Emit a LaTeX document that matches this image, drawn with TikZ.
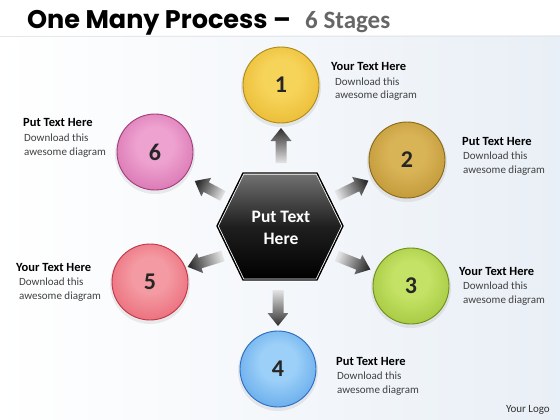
\documentclass[tikz,border=0pt]{standalone}
\usepackage{fontspec}
\setmainfont{Carlito}
\newfontfamily\titlefont{Poppins}
\usetikzlibrary{calc}
\definecolor{bgblue}{HTML}{E9EFF6}
\definecolor{arrdark}{HTML}{2E2E2E}
\definecolor{arrlight}{HTML}{E4E4E4}
\definecolor{subtxt}{HTML}{404040}
\colorlet{ballin}{white}
\colorlet{ballout}{gray}
\colorlet{ballrim}{gray}
\pgfdeclareradialshading[ballin,ballout]{myball}{\pgfpoint{0bp}{6bp}}{color(0bp)=(ballin); color(12bp)=(ballin); color(44bp)=(ballout); color(50bp)=(ballout)}
\tikzset{
  ball/.style n args={3}{circle, minimum size=76pt, inner sep=0pt,
    /utils/exec={\definecolor{ballin}{HTML}{#1}\definecolor{ballout}{HTML}{#2}\definecolor{ballrim}{HTML}{#3}},
    shade, shading=myball, draw=ballrim, line width=0.9pt,
    font=\bfseries\fontsize{24}{24}\selectfont, text=black!85},
  hd/.style={inner sep=0pt, font=\bfseries\fontsize{12.5}{14}\selectfont, text=black},
  sb/.style={inner sep=0pt, font=\fontsize{11}{13}\selectfont, text=subtxt},
}
\newcommand\tblock[5]{%
  \node[hd, anchor=base west] (#1h) at (#2,#3) {#5};
  \node[sb, anchor=base west] (#1a) at ($(#2,#3)+(#4,14)$) {Download this};
  \node[sb, anchor=base west] (#1b) at ($(#2,#3)+(#4,28)$) {awesome diagram};}
% tail x,y ; direction ; length ; shading angle
\newcommand\shadearrow[4]{%
  \begin{scope}[shift={(#1)}, rotate=#2]
    \path[top color=arrdark, bottom color=arrlight, shading angle=#4]
      (0,-5.5) -- ({#3-13},-5.5) -- ({#3-13},-10.5) -- (#3,0) -- ({#3-13},10.5) -- ({#3-13},5.5) -- (0,5.5) -- cycle;
  \end{scope}}
\begin{document}
\begin{tikzpicture}[x=1pt,y=-1pt]
\useasboundingbox (0,0) rectangle (560,420);
% background
\fill[white] (0,0) rectangle (560,420);
\shade[left color=white, right color=bgblue] (0,36) rectangle (560,420);
\draw[bgblue!80!gray!60, line width=0.6pt] (0,36) -- (560,36);
% title
\node[anchor=base west, inner sep=0pt] (title) at (27,29)
  {\titlefont\bfseries\fontsize{25.5}{26}\selectfont One Many Process \textendash};
\node[anchor=base west, inner sep=0pt, text=black!60, font=\bfseries\fontsize{25}{26}\selectfont] (sub) at (305,29) {6 Stages};
% arrows
\shadearrow{281,163}{90}{35}{0}
\shadearrow{337,196}{26}{35}{-64}
\shadearrow{337,256}{-22}{36}{-112}
\shadearrow{278,290}{-90}{36}{180}
\shadearrow{223,256}{197}{37}{107}
\shadearrow{223,196}{152}{32}{62}
% hexagon
\path[draw=white, line width=3pt, line join=round, top color=black!55, bottom color=black, middle color=black!88]
  (243,173) -- (317,173) -- (343,226) -- (317,280) -- (243,280) -- (217,226) -- cycle;
\draw[black, line width=1.4pt, line join=round]
  (243,173) -- (317,173) -- (343,226) -- (317,280) -- (243,280) -- (217,226) -- cycle;
\node[align=center, text=white, font=\bfseries\fontsize{17.5}{22}\selectfont] (hex) at (281,228) {Put Text\\Here};
% shadows
\foreach \x/\y in {281/85, 407/160, 411/286, 278/369, 150/282, 155/152}
  \fill[black, opacity=0.07] (\x,\y+2) circle (40);
% circles
\node[ball={F6D45A}{E2A818}{B08A14}] (c1) at (281,85) {1};
\node[ball={D9B457}{AE8220}{8A6A14}] (c2) at (407,160) {2};
\node[ball={C4E266}{8CB422}{6E8E16}] (c3) at (411,286) {3};
\node[ball={9CD0F8}{3C8EE2}{2A6CC2}] (c4) at (278,369) {4};
\node[ball={F49AA2}{E24A5C}{C23446}] (c5) at (150,282) {5};
\node[ball={EEA2D0}{C8549C}{A23C7C}] (c6) at (155,152) {6};
% texts
\tblock{t1}{331}{71}{4}{Your Text Here}
\tblock{t2}{462}{145}{1}{Put Text Here}
\tblock{t3}{459}{275}{4}{Your Text Here}
\tblock{t4}{336}{365}{1}{Put Text Here}
\tblock{t5}{16}{271}{3}{Your Text Here}
\tblock{t6}{23}{127}{1}{Put Text Here}
\node[sb, anchor=base east, text=black!80] (logo) at (550,412) {Your Logo};
\end{tikzpicture}
\end{document}
